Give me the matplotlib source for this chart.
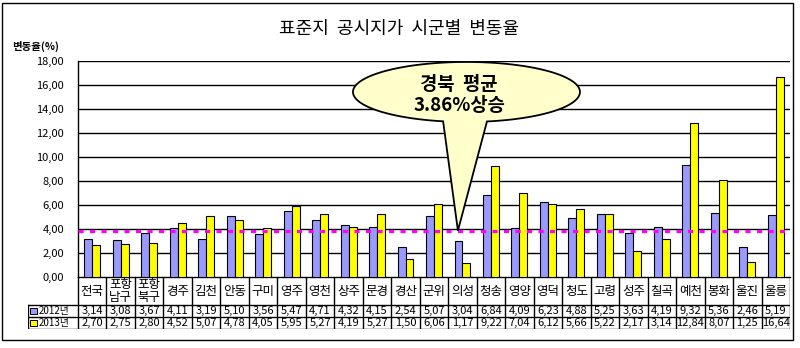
import numpy as np
import matplotlib
matplotlib.use("Agg")
import matplotlib.pyplot as plt
from matplotlib.patches import Polygon, Rectangle

plt.rcParams['font.family'] = ['Noto Sans CJK KR', 'DejaVu Sans']

categories = ["전국", "포항\n남구", "포항\n북구", "경주", "김천", "안동", "구미", "영주",
              "영천", "상주", "문경", "경산", "군위", "의성", "청송", "영양", "영덕",
              "청도", "고령", "성주", "칠곡", "예천", "봉화", "울진", "울릉"]
rate_2012 = [3.14, 3.08, 3.67, 4.11, 3.19, 5.10, 3.56, 5.47, 4.71, 4.32, 4.15, 2.54, 5.07,
             3.04, 6.84, 4.09, 6.23, 4.88, 5.25, 3.63, 4.19, 9.32, 5.36, 2.46, 5.19]
rate_2013 = [2.70, 2.75, 2.80, 4.52, 5.07, 4.78, 4.05, 5.95, 5.27, 4.19, 5.27, 1.50, 6.06,
             1.17, 9.22, 7.04, 6.12, 5.66, 5.22, 2.17, 3.14, 12.84, 8.07, 1.25, 16.64]
series_names = ["2012년", "2013년"]
avg_rate = 3.86
y_ticks = [0, 2, 4, 6, 8, 10, 12, 14, 16, 18]

W, H = 800, 348
BLUE = "#9999FF"
YELLOW = "#FFFF00"
MAGENTA = "#FF00FF"

fig = plt.figure(figsize=(W / 100, H / 100), dpi=100)


def fx(px):
    return px / W


def fy(py):
    return 1 - py / H


# plot area in pixels
L, R, T, B = 78, 790, 61, 277
ax = fig.add_axes([fx(L), fy(B), (R - L) / W, (B - T) / H])
n = len(categories)
x = np.arange(n)
bw = 0.28
ax.bar(x - bw / 2, rate_2012, width=bw, color=BLUE, edgecolor="black", linewidth=0.8, zorder=3)
ax.bar(x + bw / 2, rate_2013, width=bw, color=YELLOW, edgecolor="black", linewidth=0.8, zorder=3)
ax.set_xlim(-0.5, n - 0.5)
ax.set_ylim(0, 18)
ax.set_yticks(y_ticks)
ax.set_yticklabels([f"{v:.2f}".replace(".", ",") for v in y_ticks], fontsize=8)
ax.tick_params(axis="y", length=0, pad=10)
ax.set_xticks([])
for v in y_ticks[1:]:
    ax.axhline(v, color="black", linewidth=1, zorder=1)
for s in ["top", "right"]:
    ax.spines[s].set_visible(False)
ax.spines["left"].set_linewidth(1)
ax.spines["bottom"].set_linewidth(1)

# average line
avg_line, = ax.plot([-0.5, n - 0.5], [avg_rate, avg_rate], color=MAGENTA, linewidth=2.3, zorder=4)
avg_line.set_dashes([1.6, 2.0])

# callout balloon
cx, cy, a, b = 13.14, 15.42, 3.985, 2.5
xl, xr = 12.32, 13.86
tip = (12.84, avg_rate)
t_left = -np.arccos((xl - cx) / a)
t_right = -np.arccos((xr - cx) / a)
ts = np.linspace(t_right, t_left + 2 * np.pi, 200)
pts = np.column_stack([cx + a * np.cos(ts), cy + b * np.sin(ts)])
pts = np.vstack([pts, [tip]])
ax.add_patch(Polygon(pts, closed=True, facecolor="#FFFFCC", edgecolor="black",
                     linewidth=1.3, zorder=6, clip_on=False))
ax.text(12.88, 16.08, "경북  평균", ha="center", va="center", fontsize=13.5,
        fontweight="bold", zorder=7)
ax.text(12.88, 14.33, f"{avg_rate:.2f}%상승", ha="center", va="center", fontsize=13.5,
        fontweight="bold", zorder=7)

# data table under the chart
TL, TB = 28, 329
r1, r2 = 305, 317
px_per = (R - L) / n
tax = fig.add_axes([fx(TL), fy(TB), (R - TL) / W, (TB - B) / H])
tax.set_xlim(-0.5 - (L - TL) / px_per, n - 0.5)
tax.set_ylim(TB, B)
tax.axis("off")
lk = dict(color="black", linewidth=1)
for k in range(n + 1):
    tax.plot([k - 0.5, k - 0.5], [B, TB], **lk)
x0 = -0.5 - (L - TL) / px_per
for yy in (r1, r2, TB):
    tax.plot([x0, n - 0.5], [yy, yy], **lk)
tax.plot([x0, x0], [r1, TB], **lk)
for i, c in enumerate(categories):
    tax.text(i, (B + r1) / 2, c, ha="center", va="center", fontsize=9, linespacing=0.95)
for row, vals in ((((r1 + r2) / 2), rate_2012), (((r2 + TB) / 2), rate_2013)):
    for i, v in enumerate(vals):
        tax.text(i, row, f"{v:.2f}".replace(".", ","), ha="center", va="center", fontsize=8)
# legend keys
for (y0, y1), col, name in (((r1, r2), BLUE, series_names[0]), ((r2, TB), YELLOW, series_names[1])):
    yc = (y0 + y1) / 2
    kx0 = x0 + 2 / px_per
    tax.add_patch(Rectangle((kx0, yc + 3.2), 6.5 / px_per, -6.5, facecolor=col,
                            edgecolor="black", linewidth=0.7))
    tax.text(kx0 + 8.5 / px_per, yc, name, ha="left", va="center", fontsize=7)

# titles
fig.text(fx(399), fy(29), "표준지  공시지가  시군별  변동율", ha="center", va="center", fontsize=13)
fig.text(fx(12), fy(46.5), "변동율(%)", ha="left", va="center", fontsize=7.5, fontweight="bold")

# chart border
fig.add_artist(Rectangle((fx(2), fy(340)), (793 - 2) / W, (340 - 3) / H, transform=fig.transFigure,
                         facecolor="none", edgecolor="black", linewidth=1))

fig.savefig("out.png", dpi=100)
